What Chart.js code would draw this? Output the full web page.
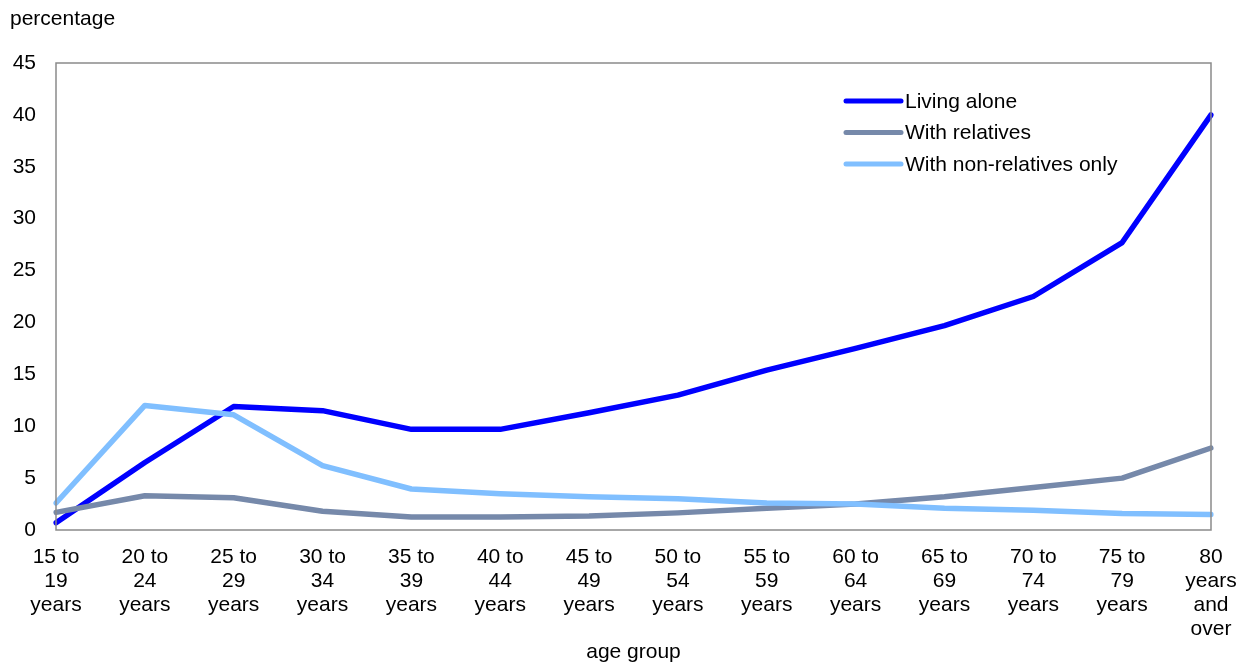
<!DOCTYPE html>
<html>
<head>
<meta charset="utf-8">
<script src="https://cdn.jsdelivr.net/npm/chart.js@4/dist/chart.umd.min.js"></script>
<style>
  html, body { margin: 0; padding: 0; background: #fff; }
  #wrap { width: 1240px; height: 664px; }
</style>
</head>
<body>
<div id="wrap"><canvas id="c" width="1240" height="664"></canvas></div>
<script>
// Age groups (multi-line tick labels)
const ageGroups = [
  ['15 to', '19', 'years'], ['20 to', '24', 'years'], ['25 to', '29', 'years'],
  ['30 to', '34', 'years'], ['35 to', '39', 'years'], ['40 to', '44', 'years'],
  ['45 to', '49', 'years'], ['50 to', '54', 'years'], ['55 to', '59', 'years'],
  ['60 to', '64', 'years'], ['65 to', '69', 'years'], ['70 to', '74', 'years'],
  ['75 to', '79', 'years'], ['80', 'years', 'and', 'over']
];

// Share of people in each living arrangement, percent
const livingAlone = [0.7, 6.5, 11.9, 11.5, 9.7, 9.7, 11.3, 13.0, 15.4, 17.5, 19.7, 22.5, 27.7, 40.0];
const withRelatives = [1.7, 3.3, 3.1, 1.8, 1.25, 1.25, 1.35, 1.65, 2.1, 2.5, 3.2, 4.1, 5.0, 7.9];
const withNonRelativesOnly = [2.6, 12.0, 11.1, 6.2, 3.95, 3.5, 3.2, 3.0, 2.6, 2.5, 2.1, 1.9, 1.6, 1.5];

const yTicks = [0, 5, 10, 15, 20, 25, 30, 35, 40, 45];

const FONT = '"Liberation Sans", Arial, sans-serif';
const TEXT = '#000000';
const SIZE = 21;

// Frame around the plotting area, plus the axis caption at the top left
const framePlugin = {
  id: 'frame',
  afterDatasetsDraw(chart) {
    const { ctx, chartArea: a } = chart;
    ctx.save();
    ctx.strokeStyle = '#8a8a8a';
    ctx.lineWidth = 1.5;
    ctx.strokeRect(a.left, a.top, a.right - a.left, a.bottom - a.top);
    ctx.restore();
  },
  afterDraw(chart) {
    const { ctx } = chart;
    ctx.save();
    ctx.font = SIZE + 'px ' + FONT;
    ctx.fillStyle = TEXT;
    ctx.textAlign = 'left';
    ctx.textBaseline = 'alphabetic';
    ctx.fillText('percentage', 10, 25);
    ctx.restore();
  }
};

// Legend drawn inside the plot area, upper right
const insideLegend = {
  id: 'insideLegend',
  afterDraw(chart) {
    const { ctx, chartArea: a } = chart;
    const x0 = a.left + 790;
    const lineLen = 55;
    const y0 = a.top + 38;
    const step = 31.5;
    ctx.save();
    ctx.font = SIZE + 'px ' + FONT;
    ctx.textAlign = 'left';
    ctx.textBaseline = 'middle';
    chart.data.datasets.forEach((ds, i) => {
      const y = y0 + i * step;
      ctx.strokeStyle = ds.borderColor;
      ctx.lineWidth = 5;
      ctx.lineCap = 'round';
      ctx.beginPath();
      ctx.moveTo(x0, y);
      ctx.lineTo(x0 + lineLen, y);
      ctx.stroke();
      ctx.fillStyle = TEXT;
      ctx.fillText(ds.label, x0 + lineLen + 4, y + 1);
    });
    ctx.restore();
  }
};

function series(label, data, color, order) {
  return {
    label, data,
    borderColor: color,
    backgroundColor: color,
    borderWidth: 5.5,
    borderCapStyle: 'round',
    borderJoinStyle: 'round',
    pointRadius: 0,
    pointHoverRadius: 0,
    tension: 0,
    fill: false,
    order
  };
}

new Chart(document.getElementById('c'), {
  type: 'line',
  data: {
    labels: ageGroups,
    datasets: [
      series('Living alone', livingAlone, '#0000ff', 2),
      series('With relatives', withRelatives, '#7689aa', 1),
      series('With non-relatives only', withNonRelativesOnly, '#80bfff', 0)
    ]
  },
  options: {
    responsive: false,
    animation: false,
    events: [],
    layout: { padding: { left: 0, right: 29, top: 63, bottom: 0 } },
    plugins: {
      legend: { display: false },
      tooltip: { enabled: false },
      title: { display: false }
    },
    scales: {
      x: {
        type: 'category',
        offset: false,
        grid: { display: false, drawTicks: false },
        border: { display: false },
        ticks: {
          color: TEXT,
          font: { family: FONT, size: SIZE, lineHeight: 24 / SIZE },
          padding: 15,
          maxRotation: 0,
          minRotation: 0,
          autoSkip: false
        },
        title: {
          display: true,
          text: 'age group',
          color: TEXT,
          font: { family: FONT, size: SIZE, lineHeight: 1.1 },
          padding: { top: 0, bottom: 0 }
        },
        afterFit(scale) {
          scale.height = 134;
          scale.paddingLeft = 0;
          scale.paddingRight = 0;
        }
      },
      y: {
        min: 0,
        max: 45,
        afterBuildTicks(scale) { scale.ticks = yTicks.map(v => ({ value: v })); },
        grid: { display: false, drawTicks: false },
        border: { display: false },
        ticks: {
          color: TEXT,
          font: { family: FONT, size: SIZE },
          padding: 20
        },
        afterFit(scale) { scale.width = 56; }
      }
    }
  },
  plugins: [framePlugin, insideLegend]
});
</script>
</body>
</html>
